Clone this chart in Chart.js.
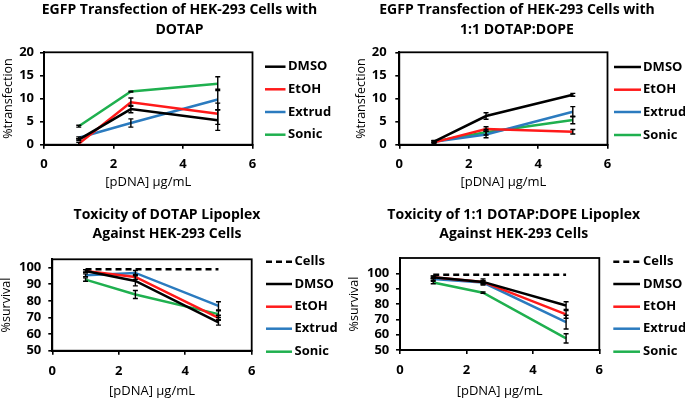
<!DOCTYPE html>
<html>
<head>
<meta charset="utf-8">
<script src="https://cdn.jsdelivr.net/npm/chart.js@4.4.1/dist/chart.umd.min.js"></script>
<style>
  html, body { margin: 0; padding: 0; background: #fff; }
  #wrap { position: relative; width: 685px; height: 398px; background: #fff; }
  canvas { position: absolute; }
</style>
</head>
<body>
<div id="wrap">
  <canvas id="c1" width="342" height="199" style="left:0;top:0"></canvas>
  <canvas id="c2" width="343" height="199" style="left:342px;top:0"></canvas>
  <canvas id="c3" width="342" height="199" style="left:0;top:199px"></canvas>
  <canvas id="c4" width="343" height="199" style="left:342px;top:199px"></canvas>
</div>
<script>
// ---------- data ----------
const doses = [1, 2.5, 5];
const xTicks = [0, 2, 4, 6];
const transTicks = [0, 5, 10, 15, 20];
const survTicks = [50, 60, 70, 80, 90, 100];
const seriesNames = ['DMSO', 'EtOH', 'Extrud', 'Sonic'];
const controlName = 'Cells';

// EGFP transfection, DOTAP
const dotapTransDMSO   = [1.1, 7.7, 5.3];
const dotapTransEtOH   = [0.2, 9.2, 6.7];
const dotapTransExtrud = [1.5, 4.7, 9.8];
const dotapTransSonic  = [4.0, 11.5, 13.2];
const dotapTransErrDMSO   = [0.2, 0.8, 2.2];
const dotapTransErrEtOH   = [0.3, 0.9, 2.3];
const dotapTransErrExtrud = [0.2, 0.9, 2.2];
const dotapTransErrSonic  = [0.2, 0.1, 1.5];

// EGFP transfection, 1:1 DOTAP:DOPE
const dopeTransDMSO   = [0.65, 6.2, 10.8];
const dopeTransEtOH   = [0.5, 3.4, 2.8];
const dopeTransExtrud = [0.65, 2.2, 7.15];
const dopeTransSonic  = [0.7, 2.7, 5.35];
const dopeTransErrDMSO   = [0.2, 0.7, 0.3];
const dopeTransErrEtOH   = [0.2, 0.5, 0.5];
const dopeTransErrExtrud = [0.2, 0.7, 1.1];
const dopeTransErrSonic  = [0.2, 0.6, 0.8];

// Toxicity, DOTAP
const dotapToxCells  = [99, 99, 99];
const dotapToxDMSO   = [98, 92, 67];
const dotapToxEtOH   = [98, 94.4, 69.8];
const dotapToxExtrud = [95.4, 96.8, 77];
const dotapToxSonic  = [92.8, 83.8, 72];
const dotapToxErrDMSO   = [0.8, 3.0, 1.6];
const dotapToxErrEtOH   = [0.8, 1.5, 1.5];
const dotapToxErrExtrud = [0.8, 1.5, 2.5];
const dotapToxErrSonic  = [1.0, 2.4, 2.0];

// Toxicity, 1:1 DOTAP:DOPE
const dopeToxCells  = [99, 99, 99];
const dopeToxDMSO   = [97.5, 94.4, 79];
const dopeToxEtOH   = [97.4, 94.4, 73.2];
const dopeToxExtrud = [96.3, 94, 68.2];
const dopeToxSonic  = [94, 87.4, 57.6];
const dopeToxErrDMSO   = [0.8, 2.0, 2.5];
const dopeToxErrEtOH   = [0.8, 1.0, 2.5];
const dopeToxErrExtrud = [0.8, 1.0, 4.5];
const dopeToxErrSonic  = [0.8, 0.5, 3.0];

// ---------- styling ----------
const COLORS = { DMSO: '#000000', EtOH: '#ff1a1a', Extrud: '#2b7bbf', Sonic: '#1fb04f', Cells: '#000000' };
const FONT = '"Open Sans", "Liberation Sans", sans-serif';

function pts(vals) { return vals.map((v, i) => ({ x: doses[i], y: v })); }
function ds(name, vals, errs, dashed) {
  return {
    label: name, data: pts(vals), errors: errs || null,
    borderColor: COLORS[name], backgroundColor: COLORS[name],
    borderWidth: 2.5, pointRadius: 0, tension: 0,
    borderDash: dashed ? [6, 4] : []
  };
}

const decor = {
  id: 'decor',
  afterDatasetsDraw(chart) {
    const { ctx, chartArea: a, scales: { x, y } } = chart;
    ctx.save();
    ctx.strokeStyle = '#000';
    ctx.lineWidth = 1.4;
    ctx.setLineDash([]);
    chart.data.datasets.forEach(d => {
      if (!d.errors) return;
      d.data.forEach((p, i) => {
        const e = d.errors[i];
        if (!e) return;
        const px = x.getPixelForValue(p.x);
        const y1 = y.getPixelForValue(p.y + e), y2 = y.getPixelForValue(p.y - e);
        ctx.beginPath();
        ctx.moveTo(px, y1); ctx.lineTo(px, y2);
        ctx.moveTo(px - 2.5, y1); ctx.lineTo(px + 2.5, y1);
        ctx.moveTo(px - 2.5, y2); ctx.lineTo(px + 2.5, y2);
        ctx.stroke();
      });
    });
    ctx.lineWidth = 1.8;
    ctx.strokeRect(a.left, a.top, a.width, a.height);
    ctx.restore();
  },
  afterDraw(chart, args, o) {
    const ctx = chart.ctx;
    ctx.save();
    ctx.fillStyle = '#000';
    ctx.textAlign = 'center';
    ctx.textBaseline = 'middle';
    ctx.font = 'bold 14px ' + FONT;
    o.title.lines.forEach((t, i) => ctx.fillText(t, o.title.cx, o.title.ys[i]));
    ctx.textAlign = 'left';
    ctx.font = 'bold 13px ' + FONT;
    chart.data.datasets.forEach((d, i) => {
      const yy = o.legend.ys[i];
      ctx.strokeStyle = d.borderColor;
      ctx.lineWidth = 2.5;
      ctx.setLineDash(d.borderDash || []);
      ctx.beginPath();
      ctx.moveTo(o.legend.x0, yy); ctx.lineTo(o.legend.x1, yy);
      ctx.stroke();
      ctx.fillText(d.label, o.legend.tx, yy);
    });
    ctx.restore();
  }
};

function makeChart(id, datasets, cfg) {
  const H = 199;
  return new Chart(document.getElementById(id), {
    type: 'line',
    data: { datasets },
    plugins: [decor],
    options: {
      responsive: false, animation: false, devicePixelRatio: 1,
      layout: { padding: { top: cfg.area.T, right: cfg.W - cfg.area.R, left: 0, bottom: 0 } },
      plugins: {
        legend: { display: false }, title: { display: false }, tooltip: { enabled: false },
        decor: { title: cfg.title, legend: cfg.legend }
      },
      scales: {
        x: {
          type: 'linear', min: 0, max: 6,
          afterBuildTicks: s => { s.ticks = xTicks.map(v => ({ value: v })); },
          afterFit: s => { s.height = H - cfg.area.B; },
          grid: { drawOnChartArea: false, drawTicks: true, tickLength: 4, color: '#000', lineWidth: 1.6 },
          border: { display: true, color: '#000', width: 2 },
          ticks: { color: '#000', font: { family: FONT, size: 13, weight: 'bold' }, padding: cfg.xtp, autoSkip: false, maxRotation: 0 },
          title: { display: true, text: '[pDNA] μg/mL', color: '#000', font: { family: FONT, size: 13, lineHeight: 1 }, padding: { top: 0, bottom: cfg.xtitlePad } }
        },
        y: {
          type: 'linear', min: cfg.ymin, max: cfg.ymax,
          afterBuildTicks: s => { s.ticks = cfg.yticks.map(v => ({ value: v })); },
          afterFit: s => { s.width = cfg.area.L; },
          grid: { drawOnChartArea: false, drawTicks: true, tickLength: 4, color: '#000', lineWidth: 1.6 },
          border: { display: true, color: '#000', width: 2 },
          ticks: { color: '#000', font: { family: FONT, size: 13, weight: 'bold', lineHeight: 1 }, padding: cfg.ytp, autoSkip: false },
          title: { display: true, text: cfg.ytitle, color: '#000', font: { family: FONT, size: 12.5, lineHeight: 1 }, padding: { top: cfg.ytitlePad, bottom: 0 } }
        }
      }
    }
  });
}

makeChart('c1', [
  ds('DMSO', dotapTransDMSO, dotapTransErrDMSO),
  ds('EtOH', dotapTransEtOH, dotapTransErrEtOH),
  ds('Extrud', dotapTransExtrud, dotapTransErrExtrud),
  ds('Sonic', dotapTransSonic, dotapTransErrSonic)
], {
  W: 342, area: { L: 44, R: 252.5, T: 52.3, B: 144.7 },
  ymin: 0, ymax: 20, yticks: transTicks, ytitle: '%transfection',
  ytp: 6, xtp: 7.7, xtitlePad: 10.5, ytitlePad: 1.8,
  title: { lines: ['EGFP Transfection of HEK-293 Cells with', 'DOTAP'], cx: 179.5, ys: [10, 30.3] },
  legend: { x0: 265, x1: 285.5, tx: 288, ys: [66.7, 89.3, 112, 134.7] }
});

makeChart('c2', [
  ds('DMSO', dopeTransDMSO, dopeTransErrDMSO),
  ds('EtOH', dopeTransEtOH, dopeTransErrEtOH),
  ds('Extrud', dopeTransExtrud, dopeTransErrExtrud),
  ds('Sonic', dopeTransSonic, dopeTransErrSonic)
], {
  W: 343, area: { L: 57.3, R: 265.5, T: 52.3, B: 144.7 },
  ymin: 0, ymax: 20, yticks: transTicks, ytitle: '%transfection',
  ytp: 8.6, xtp: 7.7, xtitlePad: 10.5, ytitlePad: 13.5,
  title: { lines: ['EGFP Transfection of HEK-293 Cells with', '1:1 DOTAP:DOPE'], cx: 175, ys: [10, 30.5] },
  legend: { x0: 272, x1: 299, tx: 301, ys: [67, 89.7, 112, 135] }
});

makeChart('c3', [
  ds('Cells', dotapToxCells, null, true),
  ds('DMSO', dotapToxDMSO, dotapToxErrDMSO),
  ds('EtOH', dotapToxEtOH, dotapToxErrEtOH),
  ds('Extrud', dotapToxExtrud, dotapToxErrExtrud),
  ds('Sonic', dotapToxSonic, dotapToxErrSonic)
], {
  W: 342, area: { L: 52.3, R: 251.7, T: 60.3, B: 151.7 },
  ymin: 50, ymax: 105, yticks: survTicks, ytitle: '%survival',
  ytp: 7, xtp: 8.4, xtitlePad: 0, ytitlePad: 0.5,
  title: { lines: ['Toxicity of DOTAP Lipoplex', 'Against HEK-293 Cells'], cx: 167, ys: [16.3, 35] },
  legend: { x0: 266, x1: 292, tx: 294.5, ys: [62.7, 85, 107.7, 129.7, 152.7] }
});

makeChart('c4', [
  ds('Cells', dopeToxCells, null, true),
  ds('DMSO', dopeToxDMSO, dopeToxErrDMSO),
  ds('EtOH', dopeToxEtOH, dopeToxErrEtOH),
  ds('Extrud', dopeToxExtrud, dopeToxErrExtrud),
  ds('Sonic', dopeToxSonic, dopeToxErrSonic)
], {
  W: 343, area: { L: 58, R: 257.3, T: 59, B: 151 },
  ymin: 50, ymax: 110, yticks: survTicks, ytitle: '%survival',
  ytp: 6.7, xtp: 8.4, xtitlePad: 0, ytitlePad: 5.8,
  title: { lines: ['Toxicity of 1:1 DOTAP:DOPE Lipoplex', 'Against HEK-293 Cells'], cx: 171.7, ys: [16.3, 35] },
  legend: { x0: 271.3, x1: 298, tx: 301, ys: [62.7, 85, 107.7, 129.7, 152.7] }
});
</script>
</body>
</html>
